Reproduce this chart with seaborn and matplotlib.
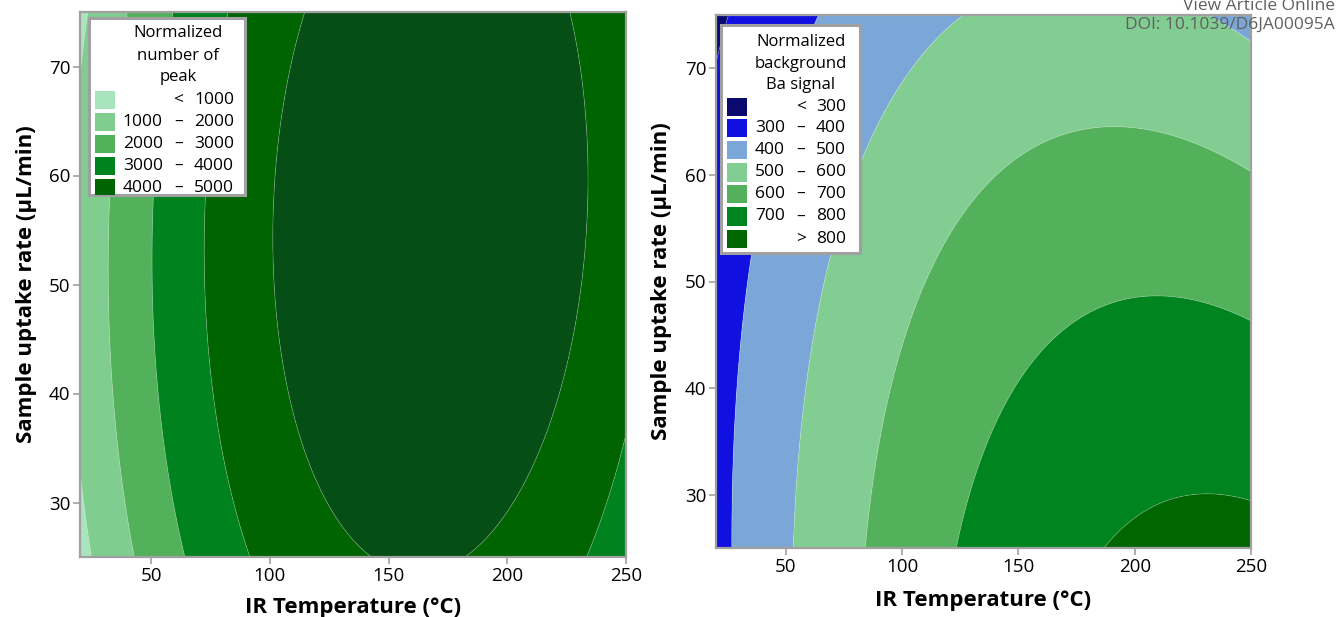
import numpy as np
import matplotlib
matplotlib.use("Agg")
import matplotlib.pyplot as plt
from matplotlib.patches import Rectangle
import seaborn as sns

# ---------------- data ----------------
temperature_range = [20, 250]          # IR Temperature (°C)
uptake_range = [25, 75]                # Sample uptake rate (µL/min)
x_ticks = [50, 100, 150, 200, 250]
y_ticks = [30, 40, 50, 60, 70]

# quadratic response-surface coefficients: 1, T, U, T^2, U^2, T*U
peak_coef = [-2199.0, 68.31, 84.83, -0.2155, -0.8455, 0.06896]
ba_coef = [244.0, 5.1072, 2.6244, -0.0096, -0.039418, -0.022272]

peak_levels = [1000, 2000, 3000, 4000, 5000]
peak_colors = ["#a8e4bd", "#80cd90", "#53b05b", "#00821f", "#006500", "#054e16"]
peak_rows = [("", "<", "1000"), ("1000", "–", "2000"), ("2000", "–", "3000"),
             ("3000", "–", "4000"), ("4000", "–", "5000")]
peak_title = ["Normalized", "number of", "peak"]

ba_levels = [300, 400, 500, 600, 700, 800]
ba_colors = ["#0a0a6e", "#1010e0", "#7ba7d8", "#82cd92", "#53b05b", "#00841f", "#006600"]
ba_rows = [("", "<", "300"), ("300", "–", "400"), ("400", "–", "500"),
           ("500", "–", "600"), ("600", "–", "700"), ("700", "–", "800"),
           ("", ">", "800")]
ba_title = ["Normalized", "background", "Ba signal"]

x_label = "IR Temperature (°C)"
y_label = "Sample uptake rate (µL/min)"

# ---------------- styling ----------------
sns.set_theme(style="white")
plt.rcParams["font.family"] = ["Open Sans", "DejaVu Sans"]

W, H = 1337, 617
fig = plt.figure(figsize=(W / 100, H / 100), dpi=100)


def add_axes_px(left, top, right, bottom):
    return fig.add_axes([left / W, 1 - bottom / H, (right - left) / W, (bottom - top) / H])


ax_boxes = [(80, 12, 626, 557), (716, 15, 1251, 548)]
ax1 = add_axes_px(*ax_boxes[0])
ax2 = add_axes_px(*ax_boxes[1])

T, U = np.meshgrid(np.linspace(*temperature_range, 500), np.linspace(*uptake_range, 400))


def surface(c):
    return c[0] + c[1] * T + c[2] * U + c[3] * T ** 2 + c[4] * U ** 2 + c[5] * T * U


def draw(ax, coef, levels, colors):
    Z = surface(coef)
    lv = [-1e9] + list(levels) + [1e9]
    ax.contourf(T, U, Z, levels=lv, colors=colors, antialiased=True)
    ax.contour(T, U, Z, levels=levels, colors="white", linewidths=0.6, alpha=0.25)
    ax.set_xlim(*temperature_range)
    ax.set_ylim(*uptake_range)
    ax.set_xticks(x_ticks)
    ax.set_yticks(y_ticks)
    for s in ax.spines.values():
        s.set_visible(True)
        s.set_color("#a0a0a0")
        s.set_linewidth(1.6)
    ax.tick_params(axis="both", direction="out", length=5, width=1.2, color="#a0a0a0",
                   labelsize=13.5, pad=2, labelcolor="black",
                   bottom=True, left=True)
    for lab in ax.get_xticklabels() + ax.get_yticklabels():
        lab.set_fontweight("medium")
    ax.set_xlabel(x_label, fontsize=16, fontweight="bold", color="black")
    ax.set_ylabel(y_label, fontsize=16, fontweight="bold", color="black")


draw(ax1, peak_coef, peak_levels, peak_colors)
draw(ax2, ba_coef, ba_levels, ba_colors)

ax1.xaxis.set_label_coords(0.5, -(597 - 557) / 545)
ax2.xaxis.set_label_coords(0.5, -(590 - 548) / 533)
ax1.yaxis.set_label_coords(-(80 - 37) / 546, 0.5)
ax2.yaxis.set_label_coords(-(716 - 672) / 535, 0.5)


def legend(ax, axbox, box, title, title_y, rows, row_y, colors, sw_x, cols):
    L, Tp, R, B = axbox
    aw, ah = R - L, B - Tp

    def ax_xy(px, py):
        return (px - L) / aw, (B - py) / ah

    x0, y0 = ax_xy(box[0], box[3])
    x1, y1 = ax_xy(box[2], box[1])
    frame = Rectangle((x0, y0), x1 - x0, y1 - y0, transform=ax.transAxes,
                      facecolor="white", edgecolor="#a0a0a0", linewidth=2.2,
                      zorder=10, clip_on=False)
    ax.add_patch(frame)
    clip = Rectangle((x0, y0), x1 - x0, y1 - y0, transform=ax.transAxes,
                     facecolor="none", edgecolor="none")
    ax.add_patch(clip)
    for line, py in zip(title, title_y):
        tx, ty = ax_xy(cols[1], py)
        ax.text(tx, ty, line, transform=ax.transAxes, ha="center", va="center",
                fontsize=12, color="black", zorder=11)
    for (lo, sym, hi), py, col in zip(rows, row_y, colors):
        sx0, sy0 = ax_xy(sw_x[0], py + 9)
        sx1, sy1 = ax_xy(sw_x[1], py - 9)
        sw = Rectangle((sx0, sy0), sx1 - sx0, sy1 - sy0, transform=ax.transAxes,
                       facecolor=col, edgecolor="none", zorder=11, clip_on=True)
        ax.add_patch(sw)
        sw.set_clip_path(clip)
        for txt, px, ha in ((lo, cols[0], "right"), (sym, cols[1], "center"), (hi, cols[2], "right")):
            if not txt:
                continue
            tx, ty = ax_xy(px, py)
            t = ax.text(tx, ty, txt, transform=ax.transAxes, ha=ha, va="center",
                        fontsize=12.5, color="black", zorder=11, clip_on=True)
            t.set_clip_path(clip)


legend(ax1, ax_boxes[0], (89, 18, 245, 195), peak_title, [33.3, 55.5, 77],
       peak_rows, [99.5, 121.5, 143.5, 165.5, 188], peak_colors, (95, 115),
       (162.8, 178.2, 234))
legend(ax2, ax_boxes[1], (721, 25, 860, 253), ba_title, [42, 63.5, 85],
       ba_rows, [106.7, 128.3, 150, 172.5, 194.3, 216.5, 238.7], ba_colors, (727, 747),
       (785, 801, 845.7))

fig.text(1335 / W, 1 - 6 / H, "View Article Online", ha="right", va="center",
         fontsize=12.5, color="#606060")
fig.text(1335 / W, 1 - 25 / H, "DOI: 10.1039/D6JA00095A", ha="right", va="center",
         fontsize=12.5, color="#606060")

fig.savefig("out.png", dpi=100)
